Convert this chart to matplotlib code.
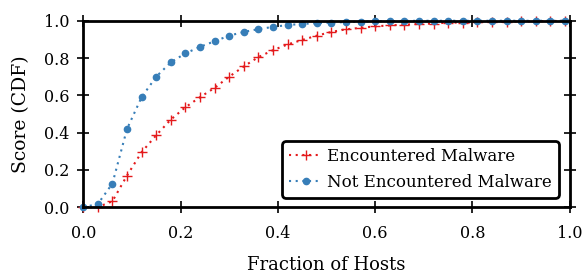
import numpy as np
import matplotlib.pyplot as plt

# fraction of hosts, sampled every 0.03
frac = np.arange(0, 34) * 0.03

encountered = [0.0, 0.0, 0.032, 0.17, 0.295, 0.386, 0.47, 0.536, 0.59, 0.64,
               0.70, 0.755, 0.805, 0.842, 0.873, 0.897, 0.92, 0.94, 0.954, 0.962,
               0.97, 0.975, 0.979, 0.983, 0.985, 0.99, 0.99, 0.992, 0.994, 0.995,
               0.996, 0.997, 0.998, 1.0]
not_encountered = [0.0, 0.017, 0.127, 0.42, 0.59, 0.70, 0.777, 0.825, 0.86, 0.89,
                   0.92, 0.94, 0.955, 0.967, 0.977, 0.983, 0.987, 0.99, 0.993, 0.995,
                   0.997, 0.998, 0.999, 1.0, 1.0, 1.0, 1.0, 1.0, 1.0, 1.0,
                   1.0, 1.0, 1.0, 1.0]

plt.rcParams['font.family'] = ['DejaVu Serif']

fig = plt.figure(figsize=(5.82, 2.73), dpi=100)
ax = fig.add_axes([0.143, 0.241, 0.836, 0.683])

ax.plot(frac, encountered, color='#e41a1c', marker='+', markersize=7,
        markeredgewidth=1.0, linestyle=(0, (1, 2.2)), linewidth=1.5,
        label='Encountered Malware', clip_on=False)
ax.plot(frac, not_encountered, color='#377eb8', marker='o', markersize=4.5,
        linestyle=(0, (1, 2.2)), linewidth=1.5,
        label='Not Encountered Malware', clip_on=False)

ax.set_xlim(0, 1)
ax.set_ylim(0, 1)
ax.set_xticks([0, 0.2, 0.4, 0.6, 0.8, 1.0])
ax.set_yticks([0, 0.2, 0.4, 0.6, 0.8, 1.0])
ax.set_xlabel('Fraction of Hosts', fontsize=13, labelpad=10)
ax.set_ylabel('Score (CDF)', fontsize=13.5, labelpad=10)
ax.tick_params(direction='inout', length=8, width=1.2, labelsize=11.5,
               top=True, right=True)
ax.tick_params(axis='x', pad=9)
ax.tick_params(axis='y', pad=6)
for s in ax.spines.values():
    s.set_linewidth(2)

leg = ax.legend(loc='lower right', bbox_to_anchor=(0.977, 0.051), fontsize=12,
                frameon=True, fancybox=True, handlelength=2.0,
                handletextpad=0.3, borderpad=0.4, labelspacing=0.55,
                borderaxespad=0)
leg.get_frame().set_edgecolor('black')
leg.get_frame().set_linewidth(2)
leg.get_frame().set_alpha(1)

fig.savefig('out.png', dpi=100)
